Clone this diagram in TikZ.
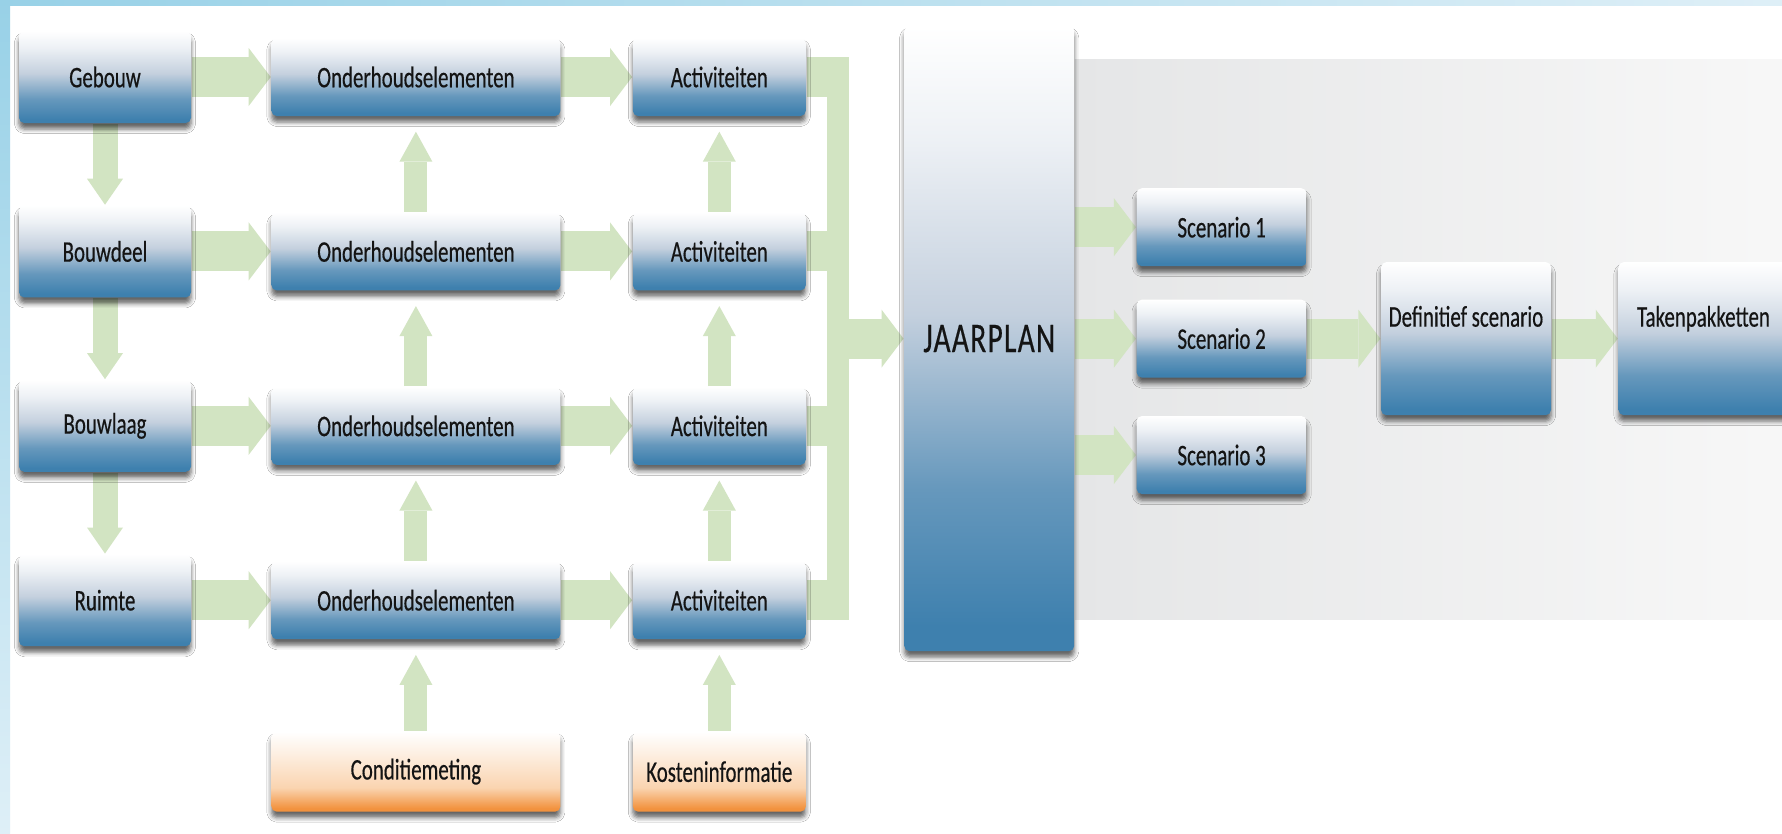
\documentclass[tikz,border=0pt]{standalone}
\usepackage{fontspec}
\setmainfont{Carlito}[FakeStretch=0.7, FakeBold=0.4]
\usetikzlibrary{positioning,calc,arrows.meta,shadows.blur,backgrounds}

\definecolor{boxblue}{RGB}{62,128,174}
\definecolor{boxmid}{RGB}{196,208,222}
\definecolor{boxorange}{RGB}{242,146,62}
\definecolor{orangemid}{RGB}{250,212,176}
\definecolor{pijlgroen}{RGB}{210,228,194}
\definecolor{randblauw}{RGB}{152,209,231}
\definecolor{randlicht}{RGB}{222,239,247}
\definecolor{paneelgrijs}{RGB}{229,230,231}
\definecolor{tekst}{RGB}{20,20,20}

\pgfdeclareverticalshading{blauwverloop}{100bp}{color(0bp)=(boxblue); color(27bp)=(boxblue);
  color(38bp)=(boxblue!70!boxmid); color(52bp)=(boxmid); color(66bp)=(boxmid!30!white);
  color(75bp)=(white); color(100bp)=(white)}
\pgfdeclareverticalshading{oranjeverloop}{100bp}{color(0bp)=(boxorange); color(27bp)=(boxorange);
  color(40bp)=(orangemid); color(62bp)=(orangemid!35!white); color(75bp)=(white); color(100bp)=(white)}

\begin{document}
\begin{tikzpicture}[
        node distance=0.81cm and 0.79cm,
        blok/.style={rectangle, rounded corners=1.5pt, shade, shading=blauwverloop, text=tekst,
            inner sep=1pt, font=\fontsize{8.5}{10}\selectfont,
            blur shadow={shadow xshift=0pt, shadow yshift=-0.06cm, shadow blur radius=0.045cm, shadow opacity=60}},
        laag/.style={blok, minimum width=1.72cm, minimum height=0.92cm},
        element/.style={blok, minimum width=2.89cm, minimum height=0.78cm},
        activiteit/.style={blok, minimum width=1.73cm, minimum height=0.78cm},
        bron/.style={blok, shading=oranjeverloop, minimum height=0.80cm},
        scenario/.style={blok, minimum width=1.70cm, minimum height=0.78cm},
        keuze/.style={blok, minimum width=1.70cm, minimum height=1.53cm},
        plan/.style={blok, minimum width=1.70cm, minimum height=6.25cm,
            font=\fontsize{12}{14}\selectfont\addfontfeatures{LetterSpace=3}},
        pijl/.style={draw=pijlgroen, line width=0.40cm, -{Triangle[width=0.58cm, length=0.22cm, line width=0pt]}},
        pijlop/.style={draw=pijlgroen, line width=0.23cm, shorten >=0.15cm,
            -{Triangle[width=0.33cm, length=0.30cm, line width=0pt]}},
        pijlneer/.style={draw=pijlgroen, line width=0.25cm, -{Triangle[width=0.36cm, length=0.26cm, line width=0pt]}},
        stam/.style={draw=pijlgroen, line width=0.40cm},
        stamv/.style={draw=pijlgroen, line width=0.22cm}]
    \useasboundingbox (0,0) rectangle (17.82,-8.33);

    % linker kolom
    \node[laag] (G) at (1.05,-0.77) {Gebouw};
    \node[laag] (BD) [below=of G] {Bouwdeel};
    \node[laag] (BL) [below=of BD] {Bouwlaag};
    \node[laag] (R) [below=of BL] {Ruimte};
    % onderhoudselementen
    \node[element] (O1) [right=of G] {Onderhoudselementen};
    \node[element] (O2) [right=of BD] {Onderhoudselementen};
    \node[element] (O3) [right=of BL] {Onderhoudselementen};
    \node[element] (O4) [right=of R] {Onderhoudselementen};
    % activiteiten
    \node[activiteit] (A1) [right=0.71cm of O1] {Activiteiten};
    \node[activiteit] (A2) [right=0.71cm of O2] {Activiteiten};
    \node[activiteit] (A3) [right=0.71cm of O3] {Activiteiten};
    \node[activiteit] (A4) [right=0.71cm of O4] {Activiteiten};
    % bronnen
    \node[bron, minimum width=2.89cm] (C) [below=0.91cm of O4] {Conditiemeting};
    \node[bron, minimum width=1.73cm] (K) [below=0.91cm of A4] {Kosteninformatie};
    % jaarplan en scenario's
    \coordinate (midden) at ($(A1.east)!0.5!(A4.east)$);
    \coordinate[right=0.42cm of A1.east] (busN);
    \coordinate[right=0.42cm of A4.east] (busZ);
    \node[plan] (J) [right=0.97cm of midden] {JAARPLAN};
    \node[scenario] (S2) [right=0.61cm of J] {Scenario 2};
    \node[scenario] (S1) [above=0.32cm of S2] {Scenario 1};
    \node[scenario] (S3) [below=0.37cm of S2] {Scenario 3};
    \node[keuze] (D) [right=0.73cm of S2] {\raisebox{0.12cm}[0pt][0pt]{Definitief scenario}};
    \node[keuze] (T) [right=0.66cm of D] {\raisebox{0.12cm}[0pt][0pt]{Takenpakketten}};

    \begin{scope}[on background layer]
        \fill[white] (0,0) rectangle (17.82,-8.33);
        \fill[left color=randblauw, right color=randlicht] (0,0) rectangle (17.82,-0.05);
        \fill[top color=randblauw, bottom color=randlicht] (0,0) rectangle (0.10,-8.33);
        \fill[left color=paneelgrijs, right color=gray!6] (J.east |- 0,-0.59) rectangle (17.82,-6.19);

        \draw[pijlneer] (G.south) -- (BD.north);
        \draw[pijlneer] (BD.south) -- (BL.north);
        \draw[pijlneer] (BL.south) -- (R.north);

        \draw[pijl] (G.east) -- (O1.west);
        \draw[pijl] (BD.east) -- (O2.west);
        \draw[pijl] (BL.east) -- (O3.west);
        \draw[pijl] (R.east) -- (O4.west);
        \draw[pijl] (O1.east) -- (A1.west);
        \draw[pijl] (O2.east) -- (A2.west);
        \draw[pijl] (O3.east) -- (A3.west);
        \draw[pijl] (O4.east) -- (A4.west);

        \draw[pijlop] (O2.north) -- (O1.south);
        \draw[pijlop] (O3.north) -- (O2.south);
        \draw[pijlop] (O4.north) -- (O3.south);
        \draw[pijlop] (C.north) -- (O4.south);
        \draw[pijlop] (A2.north) -- (A1.south);
        \draw[pijlop] (A3.north) -- (A2.south);
        \draw[pijlop] (A4.north) -- (A3.south);
        \draw[pijlop] (K.north) -- (A4.south);

        % verzamelbalk
        \draw[stam] (A1.east) -- (busN);
        \draw[stam] (A2.east) -- (A2.east -| busN);
        \draw[stam] (A3.east) -- (A3.east -| busN);
        \draw[stam] (A4.east) -- (busZ);
        \draw[stamv] ([xshift=-0.11cm, yshift=0.2cm]busN) -- ([xshift=-0.11cm, yshift=-0.2cm]busZ);
        \draw[pijl] (busN |- J.west) -- (J.west);

        \draw[pijl] (J.east |- S1.west) -- (S1.west);
        \draw[pijl] (J.east |- S2.west) -- (S2.west);
        \draw[pijl] (J.east |- S3.west) -- (S3.west);
        \draw[pijl] (S2.east) -- (D.west);
        \draw[pijl] (D.east) -- (T.west);
    \end{scope}
\end{tikzpicture}
\end{document}
